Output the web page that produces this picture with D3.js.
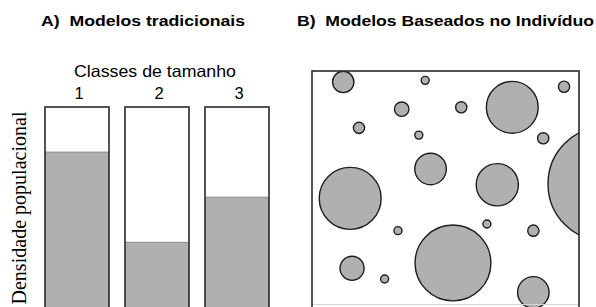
<!DOCTYPE html>
<meta charset="utf-8">
<head>
  <style>
    body { margin: 0; background: #fff; }
    svg { display: block; }
    .title { font-family: "Liberation Sans", Arial, sans-serif; font-weight: bold; font-size: 15.5px; white-space: pre; }
    .lab { font-family: "Liberation Sans", Arial, sans-serif; font-size: 16.5px; }
    .ylab { font-family: "Liberation Serif", "Times New Roman", serif; font-size: 20px; }
  </style>
  <script src="https://cdn.jsdelivr.net/npm/d3@7"></script>
</head>
<body>
<div id="chart"></div>
<script>
  // *** Panel A data: size classes and relative population density
  var classes = ["1", "2", "3"];
  var density = [0.78, 0.34, 0.56];

  // *** Panel B data: individuals (position in arena units, size)
  var indX = [11.7, 42.4, 75.0, 94.4, 33.6, 55.9, 17.6, 40.0, 86.6, 44.4, 69.4, 109.9, 14.3, 32.2, 65.5, 82.9, 52.8, 15.0, 27.2, 82.9];
  var indY = [4.1, 3.5, 13.6, 5.9, 14.3, 13.6, 21.3, 24.0, 25.2, 36.7, 42.6, 42.3, 47.7, 59.8, 57.3, 59.8, 71.9, 73.9, 77.9, 82.9];
  var indSize = [4.0, 1.5, 9.7, 2.1, 2.7, 2.1, 2.1, 1.5, 2.1, 5.9, 7.9, 21.5, 11.6, 1.5, 1.5, 2.1, 14.2, 4.5, 1.5, 5.9];

  var W = 596, H = 307;
  var svg = d3.select("#chart").append("svg")
    .attr("width", W)
    .attr("height", H);

  // titles
  svg.append("text").attr("class", "title")
    .attr("x", 41).attr("y", 26)
    .attr("textLength", 204).attr("lengthAdjust", "spacingAndGlyphs")
    .text("A)  Modelos tradicionais");
  svg.append("text").attr("class", "title")
    .attr("x", 297).attr("y", 26)
    .attr("textLength", 297).attr("lengthAdjust", "spacingAndGlyphs")
    .text("B)  Modelos Baseados no Indivíduo");

  // *** Panel A
  var x = d3.scaleBand()
    .domain(classes)
    .range([45, 269])
    .paddingInner(0.2)
    .paddingOuter(0);

  var y = d3.scaleLinear()
    .domain([0, 1])
    .range([312, 107]);

  svg.append("text").attr("class", "lab")
    .attr("x", 155).attr("y", 77)
    .attr("text-anchor", "middle")
    .attr("textLength", 162).attr("lengthAdjust", "spacingAndGlyphs")
    .text("Classes de tamanho");

  svg.selectAll(".num")
    .data(classes)
    .enter().append("text")
    .attr("class", "lab num")
    .attr("x", function(d) { return x(d) + x.bandwidth() / 2 + 2; })
    .attr("y", 99)
    .attr("text-anchor", "middle")
    .text(function(d) { return d; });

  var bars = svg.selectAll(".bar")
    .data(classes.map(function(c, i) { return { c: c, v: density[i] }; }))
    .enter().append("g")
    .attr("class", "bar");

  bars.append("rect")
    .attr("x", function(d) { return x(d.c); })
    .attr("y", y(1))
    .attr("width", x.bandwidth())
    .attr("height", y(0) - y(1))
    .attr("fill", "#fff");

  bars.append("rect")
    .attr("x", function(d) { return x(d.c); })
    .attr("y", function(d) { return y(d.v); })
    .attr("width", x.bandwidth())
    .attr("height", function(d) { return y(0) - y(d.v); })
    .attr("fill", "#b0b0b0");

  bars.append("line")
    .attr("x1", function(d) { return x(d.c); })
    .attr("x2", function(d) { return x(d.c) + x.bandwidth(); })
    .attr("y1", function(d) { return y(d.v); })
    .attr("y2", function(d) { return y(d.v); })
    .attr("stroke", "#8c8c8c")
    .attr("stroke-width", 1);

  bars.append("rect")
    .attr("x", function(d) { return x(d.c); })
    .attr("y", y(1))
    .attr("width", x.bandwidth())
    .attr("height", y(0) - y(1))
    .attr("fill", "none")
    .attr("stroke", "#2a2a2a")
    .attr("stroke-width", 1.6);

  svg.append("text").attr("class", "ylab")
    .attr("transform", "translate(26," + 208 + ") rotate(-90)")
    .attr("text-anchor", "middle")
    .attr("textLength", 193).attr("lengthAdjust", "spacingAndGlyphs")
    .text("Densidade populacional");

  // *** Panel B
  var bx0 = 312, bx1 = 579, by0 = 71, by1 = 310;
  var k = (bx1 - bx0) / 100;
  var sx = d3.scaleLinear().domain([0, 100]).range([bx0, bx1]);
  var sy = d3.scaleLinear().domain([0, 100]).range([by0, by0 + 100 * k]);
  var sr = d3.scaleLinear().domain([0, 100]).range([0, 100 * k]);

  svg.append("defs").append("clipPath")
    .attr("id", "arena")
    .append("rect")
    .attr("x", bx0).attr("y", by0)
    .attr("width", bx1 - bx0).attr("height", by1 - by0);

  svg.append("rect")
    .attr("x", bx0).attr("y", by0)
    .attr("width", bx1 - bx0).attr("height", by1 - by0)
    .attr("fill", "#fff");

  svg.append("g")
    .attr("clip-path", "url(#arena)")
    .selectAll("circle")
    .data(indX.map(function(v, i) { return { x: v, y: indY[i], s: indSize[i] }; }))
    .enter().append("circle")
    .attr("cx", function(d) { return sx(d.x); })
    .attr("cy", function(d) { return sy(d.y); })
    .attr("r", function(d) { return sr(d.s); })
    .attr("fill", "#b0b0b0")
    .attr("stroke", "#1e1e1e")
    .attr("stroke-width", 1.4);

  svg.append("line")
    .attr("x1", bx0).attr("x2", bx1)
    .attr("y1", 304.5).attr("y2", 304.5)
    .attr("stroke", "#d4d4d4").attr("stroke-width", 1);

  svg.append("rect")
    .attr("x", bx0).attr("y", by0)
    .attr("width", bx1 - bx0).attr("height", by1 - by0)
    .attr("fill", "none")
    .attr("stroke", "#2a2a2a")
    .attr("stroke-width", 1.6);
</script>
</body>
